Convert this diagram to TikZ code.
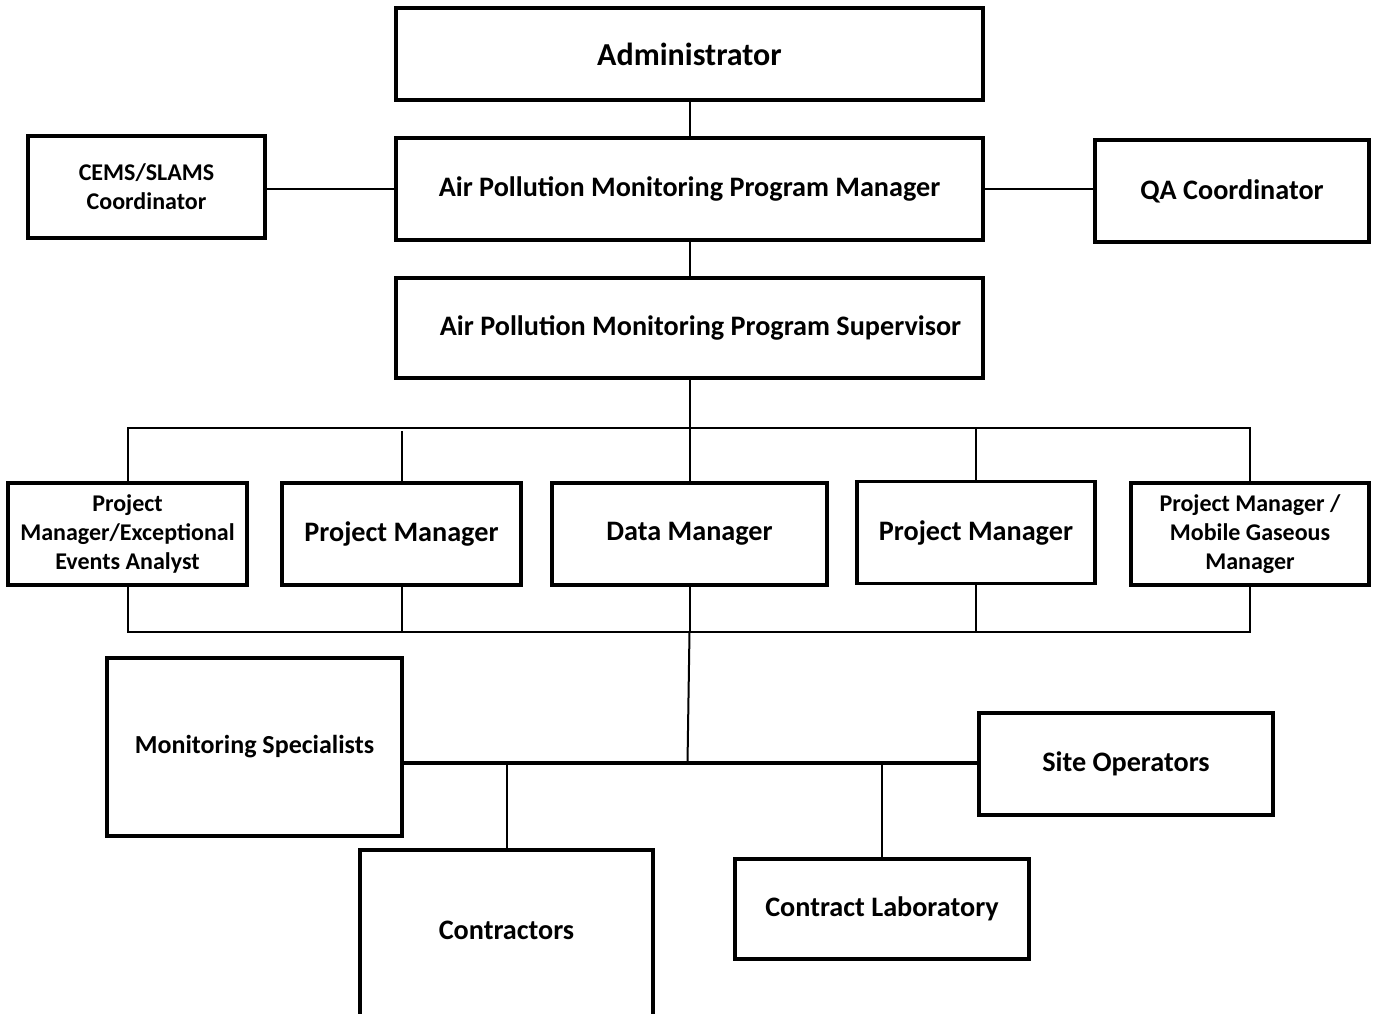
\documentclass[tikz,border=0pt]{standalone}
\usepackage{fontspec}
\setmainfont{Carlito}
\newcommand{\headfont}{\fontsize{32}{38}\selectfont\bfseries}
\newcommand{\rolefont}{\fontsize{28.2}{34}\selectfont\bfseries}
\newcommand{\smallrolefont}{\fontsize{24}{29}\selectfont\bfseries}
\newcommand{\staffont}{\fontsize{26}{31}\selectfont\bfseries}

\begin{document}
\begin{tikzpicture}[x=1pt, y=-1pt,
    orgbox/.style={draw, line width=3.5pt, align=center, inner sep=0pt},
    link/.style={line width=2pt}]
    \useasboundingbox (0,0) rectangle (1374,1014);

    % Top of the chain
    \node[orgbox, minimum width=587pt, minimum height=92pt, font=\headfont] (admin) at (689.5,54) {Administrator};
    \node[orgbox, minimum width=587pt, minimum height=102pt, font=\rolefont] (progmgr) at (689.5,189) {Air Pollution Monitoring Program Manager};
    \node[orgbox, minimum width=237pt, minimum height=102pt, font=\smallrolefont] (cems) at (146.5,187) {CEMS/SLAMS\\Coordinator};
    \node[orgbox, minimum width=274pt, minimum height=102pt, font=\rolefont] (qa) at (1232,191) {QA Coordinator};
    \node[orgbox, minimum width=587pt, minimum height=100pt, font=\rolefont] (progsup) at (689.5,328) {\hspace*{22pt}Air Pollution Monitoring Program Supervisor};

    \draw[link] (admin.south) -- (progmgr.north);
    \draw[link] (progmgr.south) -- (progsup.north);
    \draw[link] (progmgr.west) -- (progmgr.west -| cems.east);
    \draw[link] (progmgr.east) -- (progmgr.east -| qa.west);

    % Managers row
    \node[orgbox, minimum width=239pt, minimum height=102pt, font=\smallrolefont] (pmeea) at (127.5,534) {Project\\Manager/Exceptional\\Events Analyst};
    \node[orgbox, minimum width=239pt, minimum height=102pt, font=\rolefont] (pmone) at (401.5,534) {Project Manager};
    \node[orgbox, minimum width=275pt, minimum height=102pt, font=\rolefont] (datamgr) at (689.5,534) {Data Manager};
    \node[orgbox, minimum width=238pt, minimum height=102pt, font=\rolefont] (pmtwo) at (976,532.5) {Project Manager};
    \node[orgbox, minimum width=238pt, minimum height=102pt, font=\smallrolefont] (pmmg) at (1250,534) {Project Manager /\\Mobile Gaseous\\Manager};

    % Bus above the row
    \coordinate (topbus) at (689.5,428);
    \draw[link] (progsup.south) -- (topbus);
    \draw[link] (pmeea.north) |- (pmmg.north |- topbus) -- (pmmg.north);
    \draw[link] (pmone.north) -- ([yshift=-3pt]pmone.north |- topbus);
    \draw[link] (datamgr.north) -- (datamgr.north |- topbus);
    \draw[link] (pmtwo.north) -- (pmtwo.north |- topbus);

    % Bus below the row
    \coordinate (lowbus) at (689.5,632);
    \draw[link] (pmeea.south) |- (pmmg.south |- lowbus) -- (pmmg.south);
    \draw[link] (pmone.south) -- (pmone.south |- lowbus);
    \draw[link] (datamgr.south) -- (datamgr.south |- lowbus);
    \draw[link] (pmtwo.south) -- (pmtwo.south |- lowbus);

    % Field staff
    \node[orgbox, minimum width=295pt, minimum height=178pt, font=\staffont] (monspec) at (254.5,747) {Monitoring Specialists};
    \node[orgbox, minimum width=294pt, minimum height=102pt, font=\rolefont] (siteop) at (1126,764) {Site Operators};
    \node[orgbox, minimum width=293pt, minimum height=190pt, text depth=30pt, font=\rolefont] (contr) at (506.5,945) {Contractors};
    \node[orgbox, minimum width=294pt, minimum height=100pt, font=\rolefont] (contlab) at (882,909) {Contract Laboratory};

    \coordinate (hub) at (687.5,763);
    \draw[link] (lowbus) -- (hub);
    \draw[line width=4pt] (monspec.east |- hub) -- (siteop.west |- hub);
    \draw[link] (contr.north) -- (contr.north |- hub);
    \draw[link] (contlab.north) -- (contlab.north |- hub);
\end{tikzpicture}
\end{document}
